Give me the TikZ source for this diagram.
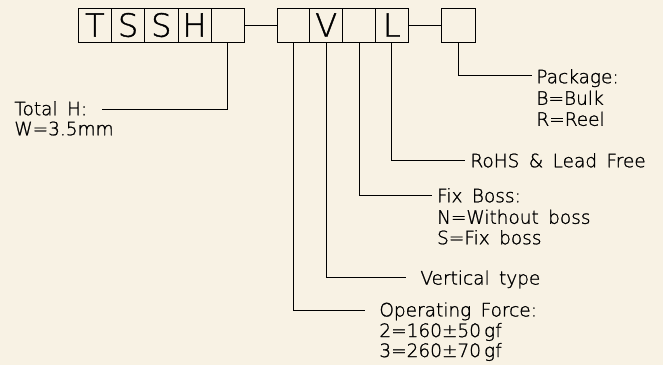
\documentclass[tikz,border=0pt]{standalone}
\usepackage{fontspec}
\setmainfont{DejaVu Sans}
\newfontfamily\thinfont[WordSpace=1.6,FakeBold=1.2]{DejaVu Sans ExtraLight}
\definecolor{bg}{HTML}{F8F2E4}
\begin{document}
\begin{tikzpicture}[x=1pt,y=-1pt,line width=0.8pt,
  cell/.style={draw, minimum width=33.2pt, minimum height=34pt, inner sep=0pt, outer sep=0pt,
    font=\thinfont\fontsize{32}{32}\selectfont, text height=23.4pt, text depth=0pt},
  lbl/.style={anchor=west, inner sep=0pt, font=\thinfont\fontsize{18.5}{21}\selectfont,
    text height=13.5pt, text depth=0pt},
  lead/.style={draw, line width=0.8pt}]
\fill[bg] (0,0) rectangle (663,365);
\useasboundingbox (0,0) rectangle (663,365);
% code boxes
\node[cell] (b1) at (94.9,25) {T};
\node[cell] (b2) at (128.1,25) {S};
\node[cell] (b3) at (161.3,25) {S};
\node[cell] (b4) at (194.5,25) {H};
\node[cell] (b5) at (227.7,25) {};
\node[cell, minimum width=32.8pt] (c1) at (293.4,25) {};
\node[cell, minimum width=32.8pt] (c2) at (326.2,25) {V};
\node[cell, minimum width=32.8pt] (c3) at (359.0,25) {};
\node[cell, minimum width=32.8pt] (c4) at (391.8,25) {L};
\node[cell] (d1) at (458.4,25) {};
\draw (b5.east) -- (c1.west);
\draw (c4.east) -- (d1.west);
% labels
\node[lbl] (th) at (14,108.5) {Total H:};
\node[lbl] (th2) at (14,128.5) {W=3.5mm};
\node[lbl] (pk) at (536,76.5) {Package:};
\node[lbl] (pk2) at (536,98) {B=Bulk};
\node[lbl] (pk3) at (536,119) {R=Reel};
\node[lbl] (ro) at (470,160.5) {RoHS \& Lead Free};
\node[lbl] (fb) at (436.7,195.5) {Fix Boss:};
\node[lbl] (fb2) at (436.7,217) {N=Without boss};
\node[lbl] (fb3) at (436.7,237.5) {S=Fix boss};
\node[lbl] (vt) at (420,277.8) {Vertical type};
\node[lbl] (of) at (379,309.7) {Operating Force:};
\node[lbl] (of2) at (379,330.3) {2=160±50\,gf};
\node[lbl] (of3) at (379,350.3) {3=260±70\,gf};
% leader ends
\coordinate (eth) at (101.7,109);
\coordinate (epk) at (532,75.7);
\coordinate (ero) at (465,160);
\coordinate (efb) at (431.7,195);
\coordinate (evt) at (406,277.7);
\coordinate (eof) at (365,310);
\draw (b5.south) |- (eth);
\draw (d1.south) |- (epk);
\draw (c4.south) |- (ero);
\draw (c3.south) |- (efb);
\draw (c2.south) |- (evt);
\draw (c1.south) |- (eof);
\end{tikzpicture}
\end{document}
